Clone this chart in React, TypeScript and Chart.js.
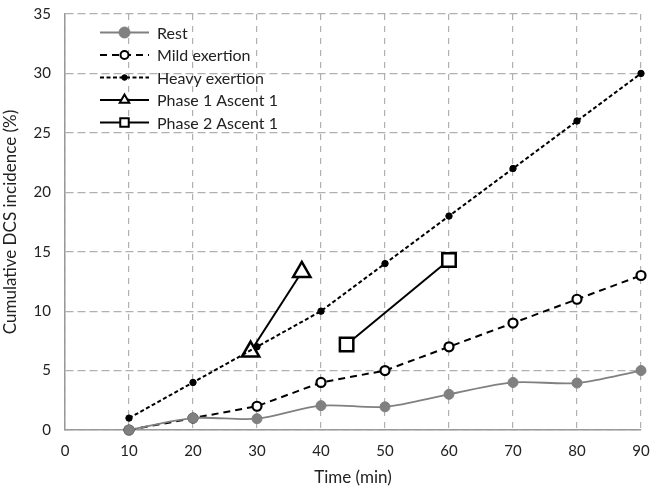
import React, { useEffect, useRef } from "react";
import { Chart, registerables } from "chart.js";
import { drawPoint } from "chart.js/helpers";

Chart.register(...registerables);

const time = [10, 20, 30, 40, 50, 60, 70, 80, 90];
const rest = [0, 1, 0.95, 2.05, 1.95, 3, 4, 3.95, 5];
const mild = [0, 1, 2, 4, 5, 7, 9, 11, 13];
const heavy = [1, 4, 7, 10, 14, 18, 22, 26, 30];
const phase1Time = [29, 37];
const phase1 = [6.6, 13.3];
const phase2Time = [44, 60];
const phase2 = [7.2, 14.3];
const xTicks = [0, 10, 20, 30, 40, 50, 60, 70, 80, 90];
const yTicks = [0, 5, 10, 15, 20, 25, 30, 35];
const labels = ["Rest", "Mild exertion", "Heavy exertion", "Phase 1 Ascent 1", "Phase 2 Ascent 1"];

const FONT = "Lato, 'Open Sans', sans-serif";

const zip = (xs: number[], ys: number[]) => xs.map((x, i) => ({ x, y: ys[i] }));

const legendStyles = [
  { r: 5.5, bw: 1 },
  { r: 4, bw: 2 },
  { r: 2.8, bw: 1 },
  { r: 5.5, bw: 2 },
  { r: 6, bw: 2 },
];

const insideLegend = {
  id: "insideLegend",
  afterDraw(chart: any) {
    const ctx = chart.ctx as CanvasRenderingContext2D;
    const area = chart.chartArea;
    const x0 = area.left + 35;
    const x1 = area.left + 84;
    const xm = (x0 + x1) / 2;
    const y0 = area.top + 18.5;
    const step = 22.5;
    ctx.save();
    chart.data.datasets.forEach((ds: any, i: number) => {
      const y = y0 + i * step;
      ctx.strokeStyle = ds.borderColor;
      ctx.lineWidth = ds.borderWidth;
      ctx.setLineDash(ds.borderDash || []);
      ctx.beginPath();
      ctx.moveTo(x0, y);
      ctx.lineTo(x1, y);
      ctx.stroke();
      ctx.setLineDash([]);
      const ls = legendStyles[i];
      ctx.fillStyle = ds.pointBackgroundColor;
      ctx.strokeStyle = ds.pointBorderColor;
      ctx.lineWidth = ls.bw;
      drawPoint(ctx, { pointStyle: ds.pointStyle, radius: ls.r, rotation: 0, borderWidth: ls.bw } as any, xm, y);
      ctx.fillStyle = "#222";
      ctx.font = `16px ${FONT}`;
      ctx.textBaseline = "middle";
      ctx.textAlign = "left";
      ctx.fillText(ds.label, x1 + 8, y + 1);
    });
    ctx.restore();
  },
};

const zeroPad = (s: any) => {
  s.paddingLeft = 0;
  s.paddingRight = 0;
  s.paddingTop = 0;
  s.paddingBottom = 0;
};

export default function App() {
  const ref = useRef<HTMLCanvasElement | null>(null);
  useEffect(() => {
    if (!ref.current) return;
    const chart = new Chart(ref.current, {
      type: "line",
      data: {
        datasets: [
          {
            label: labels[0],
            data: zip(time, rest),
            borderColor: "#808080",
            borderWidth: 1.8,
            pointStyle: "circle",
            pointRadius: 5,
            pointBackgroundColor: "#808080",
            pointBorderColor: "#808080",
            pointBorderWidth: 1,
            tension: 0.3,
            clip: false,
          },
          {
            label: labels[1],
            data: zip(time, mild),
            borderColor: "#000",
            borderWidth: 2,
            borderDash: [7, 5],
            pointStyle: "circle",
            pointRadius: 4.5,
            pointBackgroundColor: "#fff",
            pointBorderColor: "#000",
            pointBorderWidth: 2.2,
            tension: 0,
            clip: false,
          },
          {
            label: labels[2],
            data: zip(time, heavy),
            borderColor: "#000",
            borderWidth: 2,
            borderDash: [4, 2.5],
            pointStyle: "circle",
            pointRadius: 3.2,
            pointBackgroundColor: "#000",
            pointBorderColor: "#000",
            pointBorderWidth: 1,
            tension: 0,
            clip: false,
          },
          {
            label: labels[3],
            data: zip(phase1Time, phase1),
            borderColor: "#000",
            borderWidth: 2,
            pointStyle: "triangle",
            pointRadius: 10,
            pointBackgroundColor: "#fff",
            pointBorderColor: "#000",
            pointBorderWidth: 2.5,
            clip: false,
          },
          {
            label: labels[4],
            data: zip(phase2Time, phase2),
            borderColor: "#000",
            borderWidth: 2,
            pointStyle: "rect",
            pointRadius: 9.5,
            pointBackgroundColor: "#fff",
            pointBorderColor: "#000",
            pointBorderWidth: 2.5,
            clip: false,
          },
        ],
      },
      options: {
        animation: false,
        responsive: true,
        maintainAspectRatio: false,
        layout: { autoPadding: false, padding: { left: 0, right: 9, top: 14, bottom: 0 } },
        plugins: { legend: { display: false }, tooltip: { enabled: false } },
        scales: {
          x: {
            type: "linear",
            min: 0,
            max: 90,
            afterBuildTicks: (s: any) => {
              s.ticks = xTicks.map((v) => ({ value: v }));
            },
            afterFit: (s: any) => {
              s.height = 59;
              zeroPad(s);
            },
            ticks: { padding: 12, color: "#222", font: { family: FONT, size: 15 } },
            grid: { color: "#b0b0b0", lineWidth: 1.2, drawTicks: false },
            border: { display: true, color: "#999", width: 1.5, dash: [6, 6] },
            title: {
              display: true,
              text: "Time (min)",
              color: "#222",
              font: { family: FONT, size: 17 },
              padding: { top: 0, bottom: 1 },
            },
          },
          y: {
            type: "linear",
            min: 0,
            max: 35,
            afterBuildTicks: (s: any) => {
              s.ticks = yTicks.map((v) => ({ value: v }));
            },
            afterFit: (s: any) => {
              s.width = 65;
              zeroPad(s);
            },
            ticks: { padding: 14, color: "#222", font: { family: FONT, size: 15 } },
            grid: { color: "#b0b0b0", lineWidth: 1.2, drawTicks: false },
            border: { display: true, color: "#999", width: 1.5, dash: [8, 4] },
            title: {
              display: true,
              text: "Cumulative DCS incidence (%)",
              color: "#222",
              font: { family: FONT, size: 17 },
              padding: { top: 0, bottom: 0 },
            },
          },
        },
      },
      plugins: [insideLegend],
    });
    return () => chart.destroy();
  }, []);
  return (
    <div style={{ position: "absolute", left: 0, top: 0, width: 650, height: 489 }}>
      <canvas ref={ref} />
    </div>
  );
}
